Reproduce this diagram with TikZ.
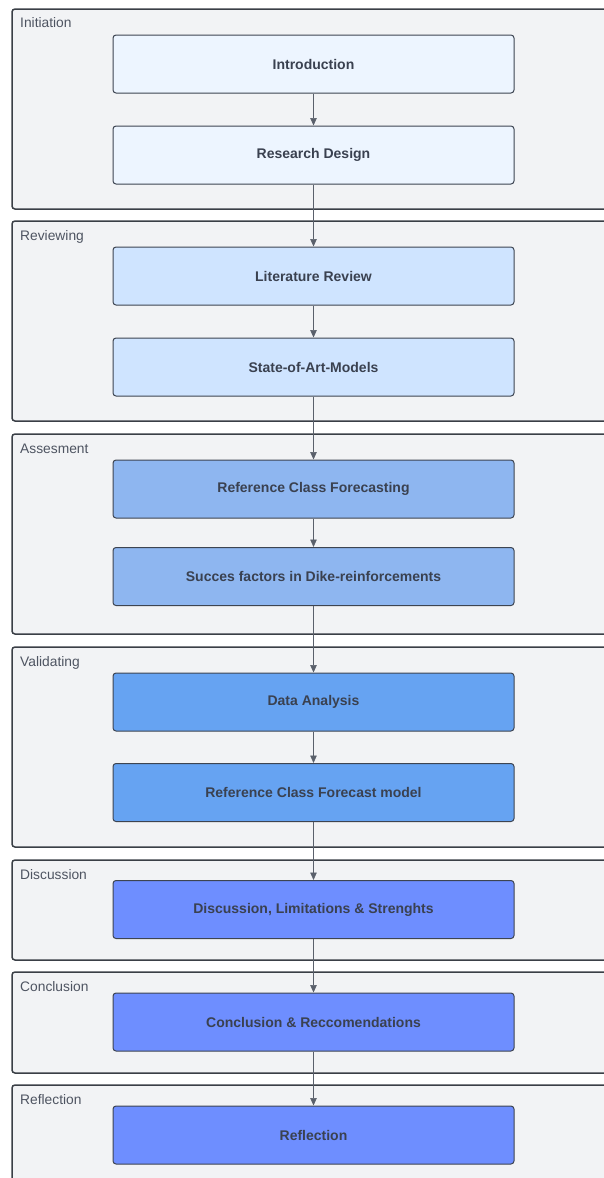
\documentclass[tikz,border=0pt]{standalone}
\usepackage{fontspec}
\setmainfont{Liberation Sans}
\usetikzlibrary{arrows.meta}
\usetikzlibrary{positioning}
\definecolor{lanefill}{HTML}{F2F3F5}
\definecolor{laneline}{HTML}{3A3F46}
\definecolor{boxline}{HTML}{3D4451}
\definecolor{boxtext}{HTML}{3A4150}
\definecolor{phaseA}{HTML}{EDF5FF}
\definecolor{phaseB}{HTML}{CFE4FF}
\definecolor{phaseC}{HTML}{8EB6F0}
\definecolor{phaseD}{HTML}{66A3F2}
\definecolor{phaseE}{HTML}{6E8EFF}
\begin{document}
\begin{tikzpicture}[x=1pt,y=-1pt,
  lane/.style={draw=laneline,fill=lanefill,line width=1.5pt,rounded corners=3pt},
  lanelabel/.style={anchor=base west,inner sep=0pt,text=boxtext!90,font=\fontsize{13.8}{16}\selectfont},
  phase/.style={draw=boxline,line width=1pt,rounded corners=3pt,minimum width=401pt,minimum height=58pt,
    inner sep=0pt,text=boxtext,font=\fontsize{14}{16}\selectfont\bfseries},
  flow/.style={draw=boxline!85,line width=0.7pt,-{Triangle[length=7.5pt,width=6.5pt]}}]
  \useasboundingbox (0,0) rectangle (603,1178);
  % swimlanes
  \draw[lane](12,9) rectangle (615,209);
  \draw[lane](12,221) rectangle (615,421);
  \draw[lane](12,434) rectangle (615,634);
  \draw[lane](12,647) rectangle (615,847);
  \draw[lane](12,860) rectangle (615,960);
  \draw[lane](12,972) rectangle (615,1073);
  \draw[lane](12,1085) rectangle (615,1200);
  \node[lanelabel] (l1) at (20,27.5){Initiation};
  \node[lanelabel] (l2) at (20,240.5){Reviewing};
  \node[lanelabel] (l3) at (20,453.5){Assesment};
  \node[lanelabel] (l4) at (20,666.5){Validating};
  \node[lanelabel] (l5) at (20,879.5){Discussion};
  \node[lanelabel] (l6) at (20,991.5){Conclusion};
  \node[lanelabel] (l7) at (20,1104.5){Reflection};
  % steps
  \node[phase,fill=phaseA] (intro) at (313.5,64){Introduction};
  \node[phase,fill=phaseA] (design) at (313.5,155){Research Design};
  \node[phase,fill=phaseB] (lit) at (313.5,276){Literature Review};
  \node[phase,fill=phaseB] (soa) at (313.5,367){State-of-Art-Models};
  \node[phase,fill=phaseC] (rcf) at (313.5,489){Reference Class Forecasting};
  \node[phase,fill=phaseC] (succ) at (313.5,576.5){Succes factors in Dike-reinforcements};
  \node[phase,fill=phaseD] (data) at (313.5,702){Data Analysis};
  \node[phase,fill=phaseD] (model) at (313.5,792.5){Reference Class Forecast model};
  \node[phase,fill=phaseE] (disc) at (313.5,909.5){Discussion, Limitations \& Strenghts};
  \node[phase,fill=phaseE] (concl) at (313.5,1022){Conclusion \& Reccomendations};
  \node[phase,fill=phaseE] (refl) at (313.5,1135){Reflection};
  \draw[flow](intro)--(design);
  \draw[flow](design)--(lit);
  \draw[flow](lit)--(soa);
  \draw[flow](soa)--(rcf);
  \draw[flow](rcf)--(succ);
  \draw[flow](succ)--(data);
  \draw[flow](data)--(model);
  \draw[flow](model)--(disc);
  \draw[flow](disc)--(concl);
  \draw[flow](concl)--(refl);
\end{tikzpicture}
\end{document}
